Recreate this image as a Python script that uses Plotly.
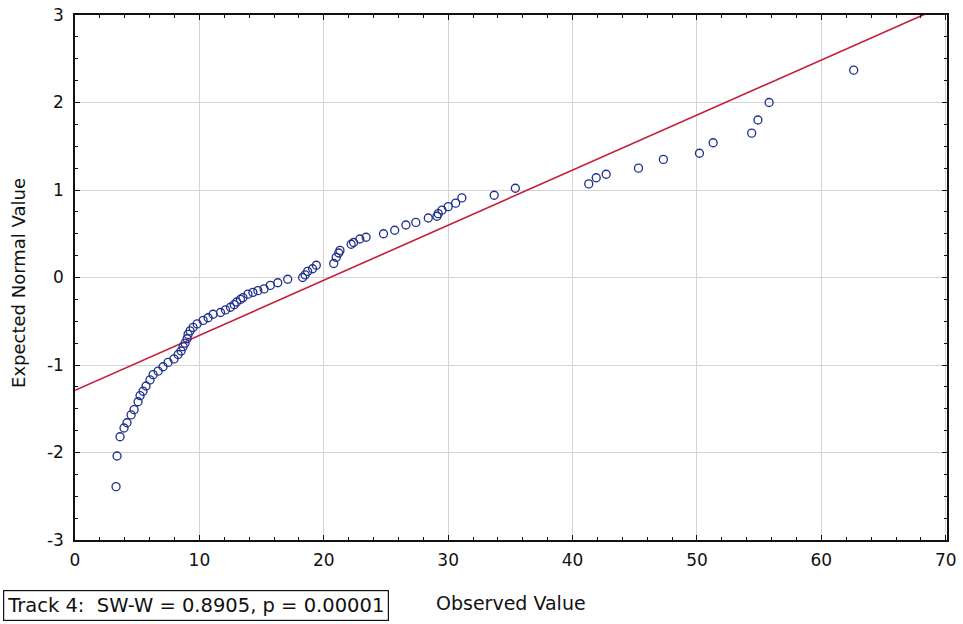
import plotly.graph_objects as go

observed = [3.30, 3.38, 3.62, 3.94, 4.18, 4.51, 4.75, 5.07, 5.23, 5.47,
            5.71, 6.03, 6.28, 6.68, 7.08, 7.48, 7.96, 8.29, 8.53, 8.69,
            8.85, 9.01, 9.09, 9.25, 9.49, 9.82, 10.3, 10.7, 11.1, 11.7,
            12.1, 12.5, 12.8, 13.0, 13.3, 13.5, 13.9, 14.3, 14.7, 15.2,
            15.7, 16.3, 17.1, 18.3, 18.5, 18.7, 19.1, 19.4, 20.8, 21.0,
            21.2, 21.3, 22.2, 22.4, 22.9, 23.4, 24.8, 25.7, 26.6, 27.4,
            28.4, 29.1, 29.2, 29.5, 30.0, 30.6, 31.1, 33.7, 35.4, 41.3,
            41.9, 42.7, 45.3, 47.3, 50.2, 51.3, 54.4, 54.9, 55.8, 62.6]
expected = [-2.39, -2.04, -1.82, -1.72, -1.66, -1.57, -1.51, -1.42, -1.35, -1.30,
            -1.24, -1.17, -1.11, -1.07, -1.02, -0.97, -0.93, -0.88, -0.84, -0.79,
            -0.75, -0.70, -0.65, -0.61, -0.57, -0.53, -0.49, -0.46, -0.42, -0.40,
            -0.37, -0.34, -0.31, -0.28, -0.25, -0.23, -0.19, -0.17, -0.15, -0.13,
            -0.09, -0.06, -0.02, 0.00, 0.03, 0.07, 0.10, 0.14, 0.16, 0.23,
            0.28, 0.31, 0.38, 0.40, 0.44, 0.46, 0.50, 0.54, 0.60, 0.63,
            0.68, 0.70, 0.73, 0.77, 0.81, 0.85, 0.91, 0.94, 1.02, 1.07,
            1.14, 1.18, 1.25, 1.35, 1.42, 1.54, 1.65, 1.80, 2.00, 2.37]

# Reference line endpoints (x, y)
line_x = [0, 70]
line_y = [-1.29, 3.115]

x_ticks = [0, 10, 20, 30, 40, 50, 60, 70]
y_ticks = [-3, -2, -1, 0, 1, 2, 3]

FONT = "DejaVu Sans"

fig = go.Figure()
fig.add_trace(go.Scatter(x=line_x, y=line_y, mode="lines",
                         line=dict(color="#c41e3a", width=1.6),
                         hoverinfo="skip", showlegend=False))
fig.add_trace(go.Scatter(x=observed, y=expected, mode="markers",
                         marker=dict(symbol="circle-open", size=8,
                                     color="#1f2f8a", line=dict(width=1.3, color="#1f2f8a")),
                         showlegend=False))

axis_common = dict(showline=True, linecolor="#111", linewidth=1.5, mirror="ticks",
                   ticks="inside", ticklen=5, tickcolor="#111", tickwidth=1.3,
                   showgrid=True, gridcolor="#d4d4d4", gridwidth=1, zeroline=False,
                   automargin=False, ticklabeloverflow="allow",
                   tickfont=dict(family=FONT, size=17, color="#111"))

fig.update_xaxes(range=[0, 70.1], tickvals=x_ticks, ticktext=[str(v) for v in x_ticks],
                 minor=dict(dtick=2, ticks="inside", ticklen=3, tickcolor="#111", showgrid=False),
                 ticklabelstandoff=4,
                 **axis_common)
fig.update_yaxes(range=[-3, 3], tickvals=y_ticks, ticktext=[str(v) for v in y_ticks],
                 minor=dict(dtick=0.25, ticks="inside", ticklen=3, tickcolor="#111", showgrid=False),
                 ticklabelstandoff=6,
                 **axis_common)

fig.add_annotation(text="Observed Value", xref="paper", yref="paper",
                   x=0.5, y=-0.12, xanchor="center", yanchor="middle", showarrow=False,
                   font=dict(family=FONT, size=19, color="#111"))
fig.add_annotation(text="Expected Normal Value", xref="paper", yref="paper",
                   x=-0.0654, y=0.4895, xanchor="center", yanchor="middle", showarrow=False,
                   textangle=-90, font=dict(family=FONT, size=18, color="#111"))

fig.add_annotation(text="Track 4:  SW-W = 0.8905, p = 0.00001", xref="paper", yref="paper",
                   x=-0.0826, y=-0.0952, xanchor="left", yanchor="top", showarrow=False,
                   font=dict(family=FONT, size=19.5, color="#111"),
                   bordercolor="#111", borderwidth=1.2, borderpad=3, bgcolor="white")

fig.update_layout(width=963, height=624, margin=dict(l=75, r=16, t=15, b=84),
                  plot_bgcolor="white", paper_bgcolor="white", showlegend=False)

fig.write_html("out.html", config={"displayModeBar": False},
               post_script="document.body.style.margin='0';document.body.style.overflow='hidden';")
